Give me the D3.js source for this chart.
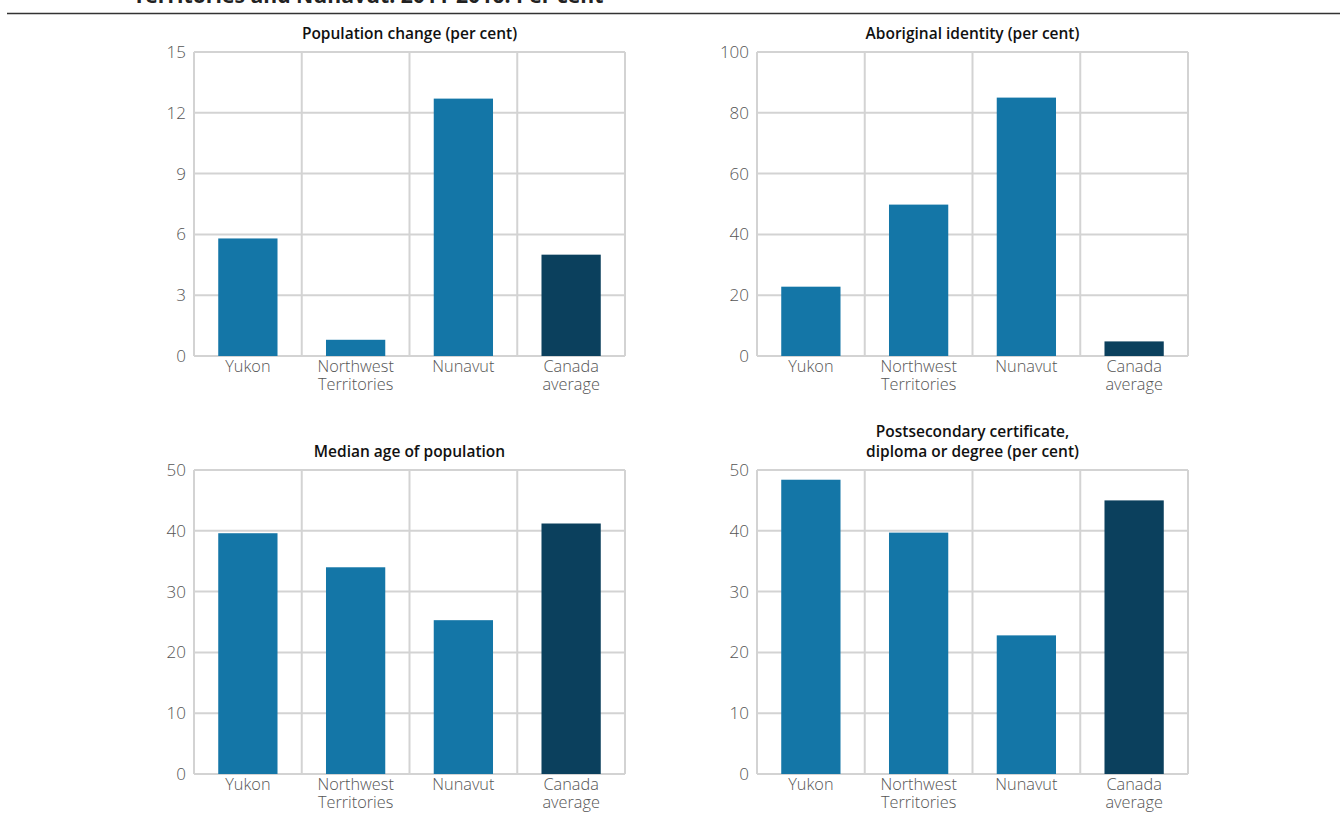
<!DOCTYPE html>
<html>
<head>
<meta charset="utf-8">
<script src="https://cdn.jsdelivr.net/npm/d3@7"></script>
<style>
  html, body { margin: 0; padding: 0; background: #fff; }
  svg { display: block; font-family: "Open Sans", "Noto Sans", sans-serif; }
</style>
</head>
<body>
<svg id="chart" width="1340" height="820"></svg>
<script>
const categories = [["Yukon"], ["Northwest", "Territories"], ["Nunavut"], ["Canada", "average"]];
const categoryKeys = ["Yukon", "Northwest Territories", "Nunavut", "Canada average"];

const populationChange = [5.8, 0.8, 12.7, 5.0];
const aboriginalIdentity = [22.8, 49.8, 85.0, 4.8];
const medianAge = [39.6, 34.0, 25.3, 41.2];
const postsecondary = [48.4, 39.7, 22.8, 45.0];

const ticksPopulation = [0, 3, 6, 9, 12, 15];
const ticksAboriginal = [0, 20, 40, 60, 80, 100];
const ticksAge = [0, 10, 20, 30, 40, 50];
const ticksPostsecondary = [0, 10, 20, 30, 40, 50];

const mainTitle = "Territories and Nunavut: 2011-2016. Per cent";

const panels = [
  { title: ["Population change (per cent)"], values: populationChange, ticks: ticksPopulation, x: 194, y: 52 },
  { title: ["Aboriginal identity (per cent)"], values: aboriginalIdentity, ticks: ticksAboriginal, x: 757, y: 52 },
  { title: ["Median age of population"], values: medianAge, ticks: ticksAge, x: 194, y: 470 },
  { title: ["Postsecondary certificate,", "diploma or degree (per cent)"], values: postsecondary, ticks: ticksPostsecondary, x: 757, y: 470 }
];

const W = 431, H = 304;
const blue = "#1476a7", dark = "#0b405d", grid = "#d3d3d3";
const svg = d3.select("#chart");

// Cut-off main title and rule
svg.append("text").attr("x", 133).attr("y", 3)
  .attr("font-size", 21.2).attr("font-weight", 700).attr("fill", "#222")
  .text(mainTitle);
svg.append("line").attr("x1", 7).attr("x2", 1340).attr("y1", 13.5).attr("y2", 13.5)
  .attr("stroke", "#333").attr("stroke-width", 1.5);

panels.forEach(p => {
  const g = svg.append("g").attr("transform", `translate(${p.x},${p.y})`);
  const x = d3.scaleBand().domain(categoryKeys).range([0, W]).paddingInner(0).paddingOuter(0);
  const y = d3.scaleLinear().domain([0, d3.max(p.ticks)]).range([H, 0]);

  g.selectAll(".hg").data(p.ticks).join("line")
    .attr("x1", 0).attr("x2", W)
    .attr("y1", d => y(d)).attr("y2", d => y(d))
    .attr("stroke", grid).attr("stroke-width", 2);
  const bounds = categoryKeys.map(c => x(c)).concat([W]);
  g.selectAll(".vg").data(bounds).join("line")
    .attr("x1", d => d).attr("x2", d => d)
    .attr("y1", 0).attr("y2", H)
    .attr("stroke", grid).attr("stroke-width", 2);

  const bw = x.bandwidth() * 0.55;
  g.selectAll(".bar").data(p.values).join("rect")
    .attr("x", (d, i) => x(categoryKeys[i]) + (x.bandwidth() - bw) / 2)
    .attr("width", bw)
    .attr("y", d => y(d))
    .attr("height", d => y(0) - y(d))
    .attr("fill", (d, i) => i === 3 ? dark : blue);

  const yAxis = d3.axisLeft(y).tickValues(p.ticks).tickSize(0).tickPadding(8);
  const ya = g.append("g").call(yAxis);
  ya.select(".domain").remove();
  ya.selectAll("text").attr("font-size", 17).attr("font-weight", 300)
    .attr("fill", "#555").attr("font-family", "'Open Sans', sans-serif");

  const lab = g.selectAll(".xl").data(categories).join("text")
    .attr("x", (d, i) => x(categoryKeys[i]) + x.bandwidth() / 2)
    .attr("y", H + 16)
    .attr("text-anchor", "middle")
    .attr("font-size", 16.3).attr("font-weight", 300).attr("fill", "#555");
  lab.each(function(d) {
    d3.select(this).selectAll("tspan").data(d).join("tspan")
      .attr("x", d3.select(this).attr("x"))
      .attr("dy", (t, j) => j === 0 ? 0 : 18)
      .text(t => t);
  });

  const nt = p.title.length;
  const tt = g.append("text").attr("x", W / 2).attr("y", -13 - (nt - 1) * 20)
    .attr("text-anchor", "middle").attr("font-size", 15.5).attr("font-weight", 600).attr("fill", "#111");
  p.title.forEach((t, j) => tt.append("tspan").attr("x", W / 2).attr("dy", j === 0 ? 0 : 20).text(t));
});
</script>
</body>
</html>
